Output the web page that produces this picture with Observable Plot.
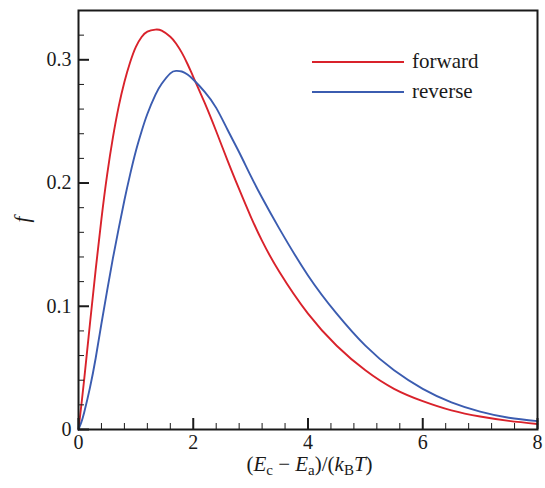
<!DOCTYPE html>
<html>
<head>
<meta charset="utf-8">
<script src="https://cdn.jsdelivr.net/npm/d3@7"></script>
<script src="https://cdn.jsdelivr.net/npm/@observablehq/plot@0.6"></script>
<style>
  html, body { margin: 0; padding: 0; background: #fff; }
  #chart svg { display: block; }
  #chart svg text { font-family: "Liberation Serif", "Times New Roman", Times, serif; }
</style>
</head>
<body>
<div id="chart"></div>
<script>
// ---- data ----
const xValues = [0, 0.05, 0.1, 0.2, 0.3, 0.4, 0.5, 0.6, 0.7, 0.8, 0.9, 1.0, 1.1, 1.2, 1.34, 1.45, 1.6, 1.7, 1.8, 1.9, 2.0, 2.2, 2.4, 2.6, 2.8, 3.0, 3.2, 3.5, 4.0, 4.5, 5.0, 5.5, 6.0, 6.5, 7.0, 7.5, 8.0];
const forwardF = [0, 0.02, 0.041, 0.086, 0.13, 0.171, 0.207, 0.237, 0.262, 0.282, 0.298, 0.3105, 0.3185, 0.3228, 0.3245, 0.3236, 0.3187, 0.3132, 0.3058, 0.2966, 0.2862, 0.265, 0.242, 0.218, 0.195, 0.173, 0.153, 0.128, 0.094, 0.068, 0.048, 0.033, 0.023, 0.0155, 0.0105, 0.007, 0.0045];
const reverseF = [0, 0.006, 0.014, 0.034, 0.058, 0.086, 0.113, 0.139, 0.163, 0.186, 0.207, 0.226, 0.242, 0.256, 0.2715, 0.2805, 0.289, 0.291, 0.2905, 0.288, 0.284, 0.274, 0.261, 0.243, 0.225, 0.206, 0.188, 0.163, 0.125, 0.094, 0.068, 0.048, 0.033, 0.022, 0.0145, 0.0095, 0.0068];
const seriesNames = ["forward", "reverse"];
const seriesColors = ["#d9222b", "#3b5cb0"];
const xMajor = [0, 2, 4, 6, 8];
const xMinor = [0.4, 0.8, 1.2, 1.6, 2.4, 2.8, 3.2, 3.6, 4.4, 4.8, 5.2, 5.6, 6.4, 6.8, 7.2, 7.6];
const yMajor = [0, 0.1, 0.2, 0.3];
const yTickLabels = ["0", "0.1", "0.2", "0.3"];
const yMinor = [0.02, 0.04, 0.06, 0.08, 0.12, 0.14, 0.16, 0.18, 0.22, 0.24, 0.26, 0.28, 0.32];

const forward = xValues.map((x, i) => ({x, f: forwardF[i], s: seriesNames[0]}));
const reverse = xValues.map((x, i) => ({x, f: reverseF[i], s: seriesNames[1]}));

const W = 545, H = 488, mL = 78, mR = 8, mT = 10, mB = 59;
const plotW = W - mL - mR, plotH = H - mT - mB;
const font = "\"Liberation Serif\", \"Times New Roman\", Times, serif";
const ink = "#1a1a1a";

const chart = Plot.plot({
  width: W, height: H,
  marginLeft: mL, marginRight: mR, marginTop: mT, marginBottom: mB,
  style: {fontFamily: font, fontSize: "19px", color: ink, background: "#fff"},
  x: {domain: [0, 8]},
  y: {domain: [0, 0.34]},
  marks: [
    Plot.line(forward, {x: "x", y: "f", stroke: seriesColors[0], strokeWidth: 1.9, curve: "natural"}),
    Plot.line(reverse, {x: "x", y: "f", stroke: seriesColors[1], strokeWidth: 1.9, curve: "natural"}),
    // inward ticks on left and bottom
    Plot.tickX(xMinor, {x: d => d, insetTop: plotH - 6, stroke: ink, strokeWidth: 1}),
    Plot.tickX(xMajor, {x: d => d, insetTop: plotH - 11, stroke: ink, strokeWidth: 2}),
    Plot.tickY(yMinor, {y: d => d, insetRight: plotW - 6, stroke: ink, strokeWidth: 1}),
    Plot.tickY(yMajor, {y: d => d, insetRight: plotW - 11, stroke: ink, strokeWidth: 2}),
    Plot.axisX({ticks: xMajor, tickSize: 0, tickPadding: 5, tickFormat: d => String(d), label: null, fontSize: 20}),
    Plot.axisY({ticks: yMajor, tickSize: 0, tickPadding: 7, tickFormat: (d, i) => yTickLabels[i], label: null, fontSize: 20}),
    Plot.frame({stroke: ink, strokeWidth: 2})
  ]
});

document.getElementById("chart").appendChild(chart);

// axis titles and legend (real text)
const svg = d3.select(chart);
const xs = chart.scale("x"), ys = chart.scale("y");

const xl = svg.append("text")
  .attr("x", (xs.apply(0) + xs.apply(8)) / 2 + 2)
  .attr("y", H - 17)
  .attr("text-anchor", "middle")
  .attr("fill", ink)
  .style("font-family", font)
  .style("font-size", "21px");
const parts = [
  ["(", null], ["E", "i"], ["c", "sub"], [" \u2212 ", null], ["E", "i"], ["a", "sub"],
  [")/(", null], ["k", "i"], ["B", "sub"], ["T", "i"], [")", null]
];
let shifted = false;
for (const [t, k] of parts) {
  const ts = xl.append("tspan").text(t);
  if (k === "i") ts.style("font-style", "italic");
  if (k === "sub") { ts.attr("dy", 4).style("font-size", "15px"); shifted = true; }
  else if (shifted) { ts.attr("dy", -4); shifted = false; }
}

svg.append("text")
  .attr("transform", `translate(29, ${(ys.apply(0) + ys.apply(0.34)) / 2}) rotate(-90)`)
  .attr("text-anchor", "middle")
  .attr("fill", ink)
  .style("font-family", font)
  .style("font-size", "21px")
  .style("font-style", "italic")
  .text("f");

const legend = svg.append("g");
seriesNames.forEach((name, i) => {
  const yy = 62 + i * 30;
  legend.append("line")
    .attr("x1", 312).attr("x2", 404).attr("y1", yy).attr("y2", yy)
    .attr("stroke", seriesColors[i]).attr("stroke-width", 2);
  legend.append("text")
    .attr("x", 412).attr("y", yy + 6)
    .attr("text-anchor", "start")
    .attr("fill", ink)
    .style("font-family", font)
    .style("font-size", "21px")
    .text(name);
});
</script>
</body>
</html>
